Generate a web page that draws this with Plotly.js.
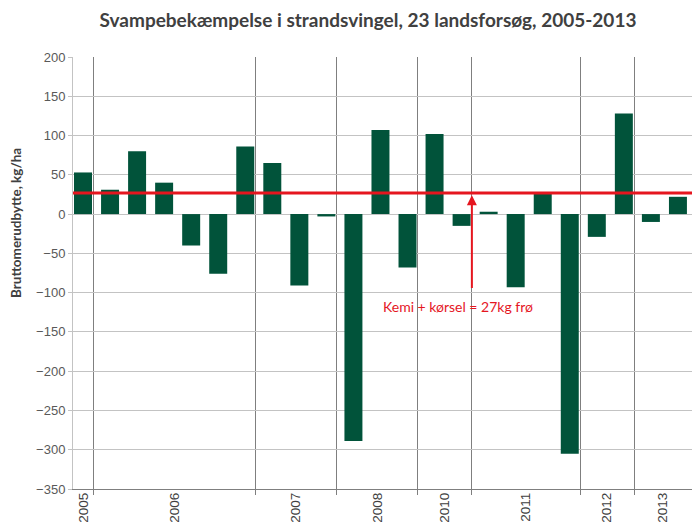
<!DOCTYPE html>
<html>
<head>
<meta charset="utf-8">
<script src="https://cdn.plot.ly/plotly-3.0.1.min.js"></script>
<style>html,body{margin:0;padding:0;background:#fff}#chart{width:692px;height:525px}</style>
</head>
<body>
<div id="chart"></div>
<script>
// ---- data ----
const trialIndex = [0,1,2,3,4,5,6,7,8,9,10,11,12,13,14,15,16,17,18,19,20,21,22];
const trialYear  = ['2005','2006','2006','2006','2006','2006','2006','2007','2007','2007','2008','2008','2008','2010','2010','2011','2011','2011','2011','2012','2012','2013','2013'];
const yieldGain  = [53,31,80,40,-40,-76,86,65,-91,-3,-289,107,-68,102,-15,3,-93,28,-305,-29,128,-10,22];
const costLevel  = 27;
const costLabel  = 'Kemi + kørsel = 27kg frø';
const yTitle     = 'Bruttomerudbytte, kg/ha';
const arrowFrom  = -96;

// ---- derived layout helpers ----
const xMin = -0.37, xMax = 22.52, sepOffset = 0.38;
const separators = [];
for (let i = 0; i < trialYear.length - 1; i++) {
  if (trialYear[i] !== trialYear[i+1]) separators.push(i + sepOffset);
}
const yearNames = [trialYear[0]];
for (let i = 1; i < trialYear.length; i++) if (trialYear[i] !== trialYear[i-1]) yearNames.push(trialYear[i]);
const edges = [xMin].concat(separators, [xMax]);
const yearPos = yearNames.map((y, k) => (edges[k] + edges[k+1]) / 2);

const red = '#e5161f';
const traces = [
  {type:'bar', x: trialIndex, y: yieldGain, marker:{color:'#01533a'}, width:0.665, hoverinfo:'x+y'},
  {type:'scatter', mode:'lines', x:[xMin, xMax], y:[costLevel, costLevel], xaxis:'x2',
   line:{color:red, width:3}, hoverinfo:'skip'}
];

const layout = {
  width: 692, height: 525,
  margin: {l:73, r:0, t:57, b:36},
  paper_bgcolor:'#fff', plot_bgcolor:'#fff',
  showlegend:false,
  title: {text:'Svampebekæmpelse i strandsvingel, 23 landsforsøg, 2005-2013',
          font:{family:'Lato', size:19, color:'#404040', weight:'bold'},
          x:368/692, xanchor:'center', xref:'container', y:1-20/525, yanchor:'middle', yref:'container'},
  xaxis: {range:[xMin, xMax], tickvals: separators, ticktext: separators.map(()=>''),
          showgrid:true, gridcolor:'#7f7f7f', gridwidth:1,
          ticks:'outside', ticklen:5, tickcolor:'#7f7f7f', showticklabels:false,
          showline:true, linecolor:'#7f7f7f', linewidth:1, zeroline:false, fixedrange:true},
  xaxis2: {range:[xMin, xMax], overlaying:'x', side:'bottom', tickvals: yearPos, ticktext: yearNames,
           tickangle:-90, showgrid:false, ticks:'', showline:false, zeroline:false,
           tickfont:{family:'Liberation Sans', size:13.5, color:'#404040'}},
  yaxis: {range:[-350, 200], dtick:50, tick0:0, gridcolor:'#c3c3c3', gridwidth:1,
          showline:true, linecolor:'#c3c3c3', ticks:'outside', ticklen:4, tickcolor:'#c3c3c3',
          zeroline:false, tickfont:{family:'Liberation Sans', size:13, color:'#595959'}},
  annotations: [
    {x: separators[4], y: costLevel - 3, ax: separators[4], ay: arrowFrom, xref:'x', yref:'y', axref:'x', ayref:'y',
     text:'', showarrow:true, arrowhead:2, arrowsize:1, arrowwidth:2, arrowcolor:red},
    {x: 13.85, y: -118, xref:'x', yref:'y', text: costLabel, showarrow:false,
     font:{family:'Lato', size:14, color:red}},
    {x: (16-73)/619, y: (489-223)/432, xref:'paper', yref:'paper', text: yTitle, textangle:-90,
     showarrow:false, xanchor:'center', yanchor:'middle',
     font:{family:'Lato', size:13.5, color:'#404040', weight:'bold'}}
  ]
};

Plotly.newPlot('chart', traces, layout, {displayModeBar:false, staticPlot:true});
</script>
</body>
</html>
